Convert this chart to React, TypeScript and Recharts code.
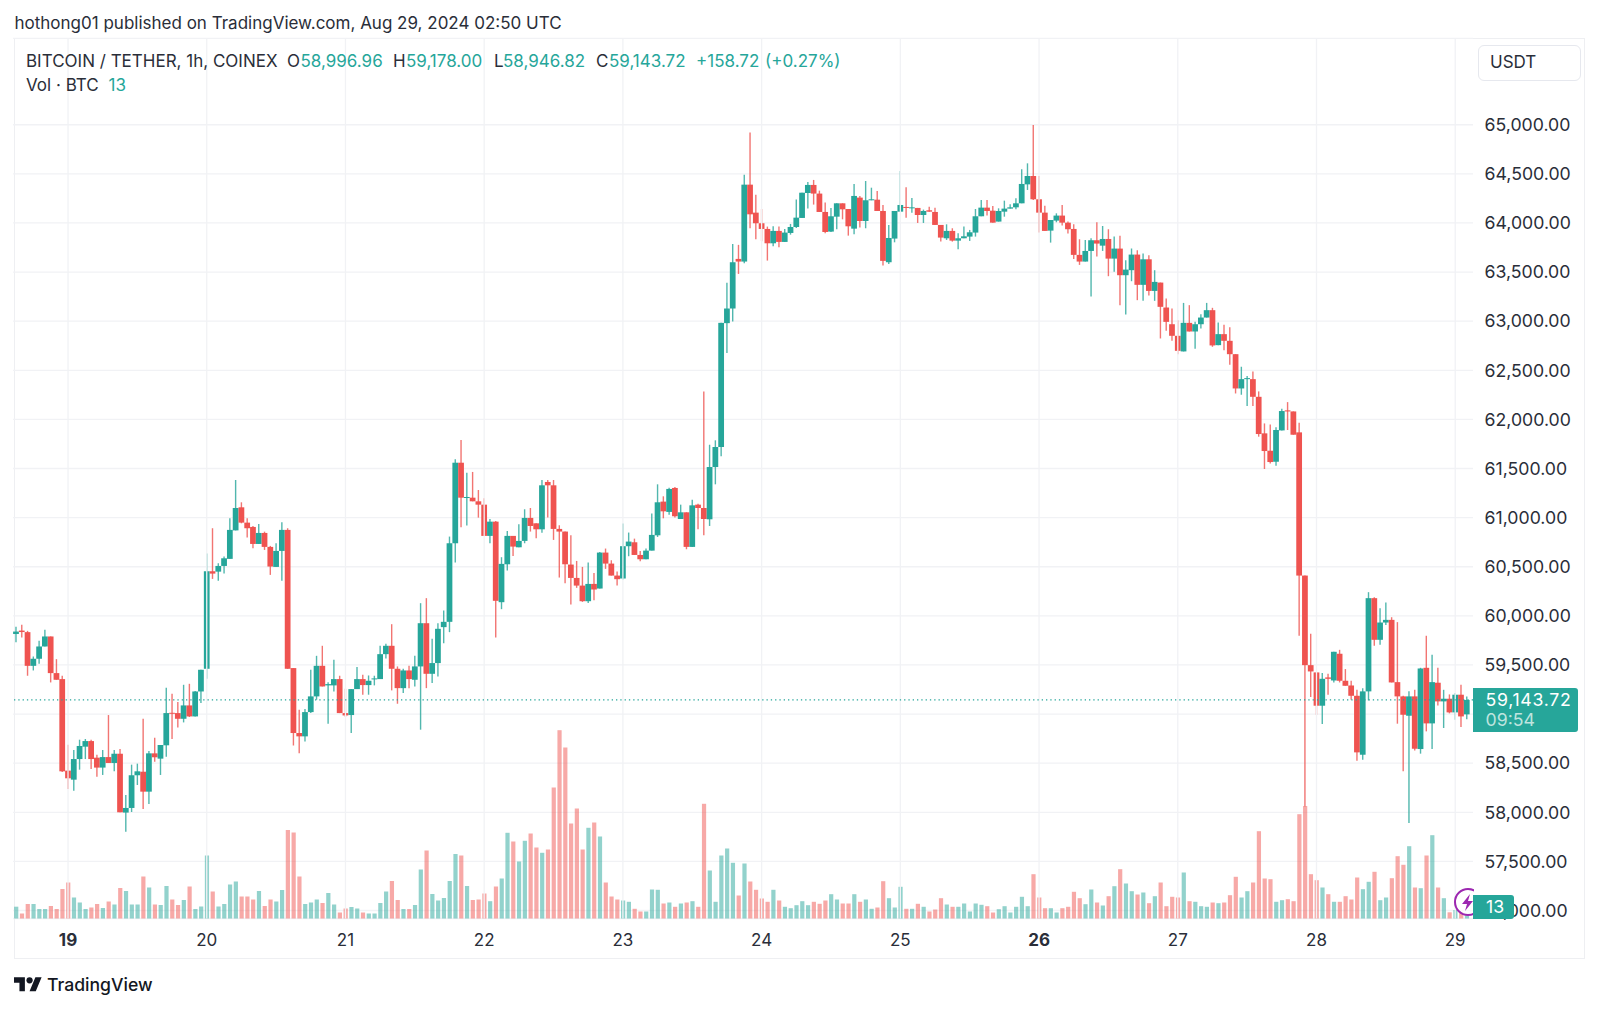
import React from "react";
import {
  ComposedChart,
  Bar,
  XAxis,
  YAxis,
  CartesianGrid,
  ReferenceLine,
} from "recharts";

const FONT = "Inter, 'Noto Sans', sans-serif";
const UP = "#26a69a";
const DOWN = "#ef5350";
const INK = "#2a2e39";

// hourly candles: [open, high, low, close]
const ohlc: number[][] = [
  [59815,59890,59730,59840],[59850,59910,59780,59835],[59834,59847,59390,59491],[59491,59586,59444,59563],[59563,59746,59512,59688],
  [59688,59858,59688,59790],[59790,59790,59322,59417],[59417,59559,59349,59349],[59356,59390,58410,58417],[58424,58688,58237,58346],
  [58332,58634,58220,58542],[58542,58739,58434,58675],[58668,58746,58542,58725],[58725,58739,58441,58542],[58556,58586,58363,58455],
  [58455,58634,58380,58562],[58562,58990,58502,58502],[58502,58634,58417,58596],[58596,58644,58000,58000],[57997,58176,57803,58044],
  [58044,58485,58003,58377],[58377,58495,58278,58417],[58413,58952,58034,58210],[58210,58624,58085,58600],[58600,58759,58515,58560],
  [58546,58685,58380,58685],[58682,59268,58566,59010],[59013,59207,58746,59003],[59010,59122,58864,58952],[58952,59298,58915,59088],
  [59088,59308,58970,58976],[58976,59235,58976,59230],[59230,59451,59112,59451],[59461,60634,59359,60454],[60454,60892,60376,60430],
  [60450,60536,60356,60508],[60508,60603,60430,60586],[60580,60993,60580,60875],[60870,61383,60870,61098],[61105,61156,60942,60949],
  [60949,60993,60797,60892],[60905,60915,60688,60732],[60732,60935,60732,60844],[60844,60857,60671,60702],[60702,60712,60417,60502],
  [60498,60739,60498,60661],[60661,60953,60356,60875],[60875,60892,59461,59461],[59468,59468,58680,58807],[58807,59044,58600,58773],
  [58773,59051,58720,59020],[59020,59451,59010,59180],[59180,59593,59146,59491],[59491,59695,59281,59281],[59292,59325,58902,59305],
  [59292,59553,59230,59356],[59356,59390,59010,59010],[59010,59258,58970,58986],[58990,59254,58807,59254],[59254,59478,59254,59356],
  [59356,59400,59197,59295],[59295,59393,59197,59339],[59356,59390,59292,59363],[59356,59695,59356,59610],[59610,59715,59566,59695],
  [59695,59915,59241,59461],[59461,59485,59105,59264],[59264,59461,59214,59444],[59444,59491,59264,59356],[59349,59593,59281,59485],
  [59485,60129,58841,59925],[59925,60180,59264,59410],[59410,59766,59315,59519],[59519,59925,59383,59868],[59885,60054,59722,59939],
  [59939,60807,59834,60739],[60739,61593,60542,61559],[61559,61790,60902,61203],[61203,61458,60919,61210],[61203,61465,61166,61166],
  [61166,61281,61000,61132],[61132,61197,60814,60814],[60814,60986,60739,60959],[60959,60965,59780,60153],[60139,60597,60068,60529],
  [60525,60864,60461,60814],[60814,60814,60610,60705],[60698,60932,60698,60763],[60763,61085,60739,60997],[60997,61098,60858,60915],
  [60942,60942,60790,60881],[60881,61383,60847,61329],[61363,61383,61000,61329],[61329,61383,60773,60885],[60885,60922,60390,60858],
  [60858,60858,60332,60525],[60522,60820,60115,60386],[60386,60559,60285,60308],[60308,60498,60142,60149],[60149,60542,60132,60325],
  [60325,60437,60159,60268],[60278,60650,60278,60644],[60644,60685,60478,60532],[60532,60566,60410,60410],[60410,60451,60308,60373],
  [60380,60939,60370,60709],[60709,60848,60607,60756],[60749,60786,60620,60620],[60620,60661,60556,60576],[60576,60685,60576,60664],
  [60664,61041,60664,60824],[60820,61339,60803,61156],[61163,61217,60993,61064],[61058,61305,61030,61292],[61302,61312,61000,61014],
  [60986,61132,60986,61054],[61054,61054,60678,60702],[60702,61183,60702,61125],[61132,61142,60881,61098],[61098,62285,60820,60986],
  [60983,61742,60915,61515],[61515,61787,61339,61719],[61719,62983,61624,62983],[62980,63390,62675,63129],[63129,63787,62997,63600],
  [63634,63777,63481,63607],[63607,64492,63590,64390],[64390,64922,63946,64088],[64105,64288,63834,63997],[63997,64142,63814,63939],
  [63939,63963,63617,63793],[63793,63966,63763,63919],[63919,63963,63753,63807],[63807,63939,63807,63902],[63898,63990,63881,63959],
  [63959,64238,63949,64054],[64051,64308,64051,64308],[64305,64417,64146,64387],[64387,64438,64187,64299],[64299,64329,64112,64112],
  [64112,64207,63895,63908],[63912,64153,63908,64068],[64064,64200,63936,64200],[64200,64200,64037,64139],[64142,64142,63871,63966],
  [63942,64397,63885,64275],[64258,64275,63953,64020],[64020,64427,63946,64231],[64231,64359,64231,64241],[64237,64325,64122,64122],
  [64122,64183,63566,63614],[63600,63980,63583,63847],[63841,64122,63803,64122],[64115,64529,64115,64183],[64163,64363,64054,64153],
  [64149,64254,64105,64159],[64153,64153,64000,64081],[64081,64136,64000,64122],[64129,64166,64115,64115],[64112,64156,63980,63980],
  [63980,63980,63810,63851],[63844,63986,63827,63919],[63919,63946,63810,63820],[63820,63895,63732,63844],[63844,63963,63844,63864],
  [63861,63929,63817,63905],[63902,64142,63861,64068],[64068,64234,64068,64156],[64156,64234,64075,64122],[64125,64173,64003,64003],
  [64014,64149,64014,64122],[64115,64227,64064,64146],[64146,64190,64146,64159],[64159,64251,64139,64200],[64200,64546,64200,64397],
  [64393,64607,64336,64478],[64478,64997,64234,64241],[64241,64478,63902,64105],[64105,64176,63919,63919],[63922,64030,63800,64030],
  [64024,64098,64007,64075],[64075,64183,63973,64003],[64003,64014,63892,63936],[63939,63986,63634,63675],[63675,63834,63573,63607],
  [63607,63827,63607,63715],[63715,63844,63251,63824],[63824,64007,63658,63790],[63769,63969,63715,63837],[63837,63936,63458,63637],
  [63637,63861,63502,63739],[63739,63871,63163,63468],[63468,63620,63068,63525],[63519,63740,63407,63678],[63678,63722,63214,63370],
  [63370,63688,63207,63630],[63630,63671,63261,63308],[63308,63519,63207,63400],[63393,63393,62824,63146],[63139,63230,62902,62993],
  [62969,63129,62800,62851],[62851,63010,62664,62698],[62692,63186,62692,62983],[62983,63163,62895,62895],[62895,62993,62719,62969],
  [62969,63071,62925,63037],[63037,63186,63037,63112],[63112,63136,62739,62753],[62756,62986,62756,62868],[62868,62963,62705,62800],
  [62800,62939,62556,62664],[62664,62664,62264,62315],[62315,62536,62251,62410],[62414,62441,62136,62420],[62410,62488,62136,62230],
  [62230,62285,61824,61851],[61858,61959,61495,61678],[61681,61949,61552,61566],[61569,61919,61529,61892],[61888,62108,61888,62085],
  [62092,62176,61892,62081],[62081,62081,61844,61844],[61868,61966,59797,60410],[60410,60410,58060,59498],[59498,59817,59173,59434],
  [59424,59424,58993,59085],[59085,59417,58898,59359],[59373,59410,59197,59359],[59342,59634,59322,59634],[59614,59654,59322,59339],
  [59339,59458,59288,59288],[59291,59339,59146,59186],[59186,59247,58525,58610],[58586,59264,58536,59231],[59231,60241,59139,60180],
  [60180,60190,59695,59756],[59756,60078,59705,59932],[59932,60136,59908,59959],[59959,59986,59322,59322],[59325,59936,58902,59180],
  [59180,59186,58417,58993],[58983,59231,57891,59180],[59180,59247,58630,58647],[58644,59471,58597,59464],[59471,59797,58824,58905],
  [58905,59603,58644,59325],[59319,59471,59088,59129],[59129,59247,58858,59156],[59156,59200,59007,59017],[59017,59214,58942,59197],
  [59197,59298,58868,58976],[58996.96,59178,58946.82,59143.72],
];

// hourly volume, read against the same baseline
const volumes: number[] = [
  11.8,5,14.5,14.5,9.5,9.5,12.5,9.5,29.5,36,21,16,9.5,11,14.5,10.5,17,14,30.5,27.5,
  14,14,42,31,14,13.5,32.5,19,13.5,18.5,32,9.5,12,63,27,12,14.5,34,37,22,
  22,19,27.5,12.5,19,17,28.5,88.5,86,42,14.5,16,19,15.5,25.5,14,6,10,11.5,10,
  6,5,5,15.5,27,37.5,18.5,9.5,9.5,13.5,49,68,24.5,18,20.5,37.5,64.5,63,32.5,18.5,
  19,25,17.3,32,40,85.7,77,57,77.7,85,71,65.7,69,131,188.3,171,95,110,69,90.7,
  96,82,36,22,19,18,16.7,9.7,7,7,29,28.7,15,16,11.7,15,16,17.3,11.7,114.7,
  48,16.7,63,70,55.7,23,55,37,28.7,20,16.7,28.7,18,11.7,10.3,13.3,17.3,13.3,16.7,14.7,
  18,24.3,19,15,15,24.3,16.7,19,9.7,11,37.3,20.3,11,31.7,9.7,9.7,14.7,11.7,7,9,
  20.3,14,11.7,11.7,15,7,15,13.7,12.3,6,9.3,12.3,6,11.7,21.7,12.3,44.3,21,10.3,10.3,
  6,10.3,11.7,26.7,20.3,14.3,29,16,13,22.3,32.3,49.3,35,27.3,24,26,15.3,22.3,36,12.3,
  21.7,21,46,17.3,16.7,12.3,11.7,16,15.3,16,23.3,41.7,21,27.3,36,87.3,40,39.3,16.7,18.3,
  19.3,17.3,104.3,112.5,44.3,38.3,31,24.3,16.7,16.7,22.3,19,41,29.3,36.7,46.7,18.3,21,40.3,62.3,
  53.7,72.3,31,30.3,63,83.3,31,20.3,6.2,8.5,6,3,
];

const dayLabels = ["19", "20", "21", "22", "23", "24", "25", "26", "27", "28", "29"];
const dayStartHours = [9, 33, 57, 81, 105, 129, 153, 177, 201, 225, 249];
const boldDays = ["19", "26"];
const priceTicks = [57000, 57500, 58000, 58500, 59000, 59500, 60000, 60500, 61000, 61500, 62000, 62500, 63000, 63500, 64000, 64500, 65000];
const coveredPriceTick = 59000;
const lastPrice = 59143.72;

const rows = ohlc.map(([open, high, low, close], hour) => ({
  hour,
  open,
  high,
  low,
  close,
  range: [low, high],
  volume: volumes[hour] ?? 0,
}));

function Candle(props: any) {
  const { x, y, width, height, payload } = props;
  const { open, high, low, close } = payload;
  const k = height / Math.max(high - low, 1);
  const at = (p: number) => y + (high - p) * k;
  const color = close >= open ? UP : DOWN;
  const top = at(Math.max(open, close));
  const h = Math.max(Math.abs(open - close) * k, 1);
  const cx = x + width / 2;
  return (
    <g>
      <line x1={cx} x2={cx} y1={y} y2={y + height} stroke={color} strokeWidth={1.4} opacity={0.8} />
      <rect x={x} y={top} width={width} height={h} fill={color} />
    </g>
  );
}

function VolumeBar(props: any) {
  const { x, y, width, height, payload } = props;
  const color = payload.close >= payload.open ? UP : DOWN;
  return <rect x={x} y={y} width={width} height={height} fill={color} fillOpacity={0.5} />;
}

function DayTick(props: any) {
  const { x, y, payload } = props;
  const label = dayLabels[dayStartHours.indexOf(payload.value)];
  return (
    <text
      x={x}
      y={y}
      dy={19}
      textAnchor="middle"
      fontFamily={FONT}
      fontSize={17}
      fontWeight={boldDays.includes(label) ? 700 : 400}
      fill={INK}
    >
      {label}
    </text>
  );
}

function Txt({ x, y, color = INK, size = 17, weight = 400, spacing = 0, children }: any) {
  return (
    <div
      style={{
        position: "absolute",
        left: x,
        top: y,
        transform: "translateY(-50%)",
        color,
        fontSize: size,
        fontWeight: weight,
        fontFamily: FONT,
        letterSpacing: spacing,
        whiteSpace: "nowrap",
        lineHeight: 1,
      }}
    >
      {children}
    </div>
  );
}

export default function App() {
  return (
    <div style={{ position: "absolute", left: 0, top: 0, width: 1600, height: 1009, background: "#fff", overflow: "hidden" }}>
      <div style={{ position: "absolute", left: 14, top: 38, width: 1571, height: 921, border: "1px solid #eeeff2", boxSizing: "border-box" }} />
      <ComposedChart
        width={1600}
        height={1009}
        data={rows}
        margin={{ left: 13.11, top: 38.3, right: 15, bottom: 50 }}
        style={{ position: "absolute", left: 0, top: 0 }}
      >
        <CartesianGrid xAxisId="price" yAxisId="price" vertical={false} stroke="#f1f2f5" strokeWidth={1.3} />
        <XAxis
          xAxisId="price"
          dataKey="hour"
          type="category"
          ticks={dayStartHours}
          interval={0}
          height={40.5}
          padding={{ left: 0, right: 3.33 }}
          axisLine={false}
          tickLine={false}
          tick={<DayTick />}
        />
        <XAxis xAxisId="vol" dataKey="hour" type="category" hide padding={{ left: 0, right: 3.33 }} />
        <YAxis
          yAxisId="price"
          orientation="right"
          width={112}
          domain={[56918.6, 65880]}
          allowDataOverflow
          ticks={priceTicks}
          interval={0}
          axisLine={false}
          tickLine={false}
          tickMargin={11.5}
          tickSize={0}
          tick={{ fontFamily: FONT, fontSize: 17.7, fill: INK }}
          tickFormatter={(v: number) =>
            v === coveredPriceTick
              ? ""
              : v.toLocaleString("en-US", { minimumFractionDigits: 2, maximumFractionDigits: 2 })
          }
        />
        <YAxis yAxisId="vol" hide domain={[0, 880.2]} />
        {dayStartHours.map((h) => (
          <ReferenceLine key={h} xAxisId="price" yAxisId="price" x={h} stroke="#f1f2f5" strokeWidth={1.3} />
        ))}
        <Bar
          xAxisId="vol"
          yAxisId="vol"
          dataKey="volume"
          barSize={4.2}
          shape={<VolumeBar />}
          isAnimationActive={false}
        />
        <ReferenceLine yAxisId="price" xAxisId="price" y={lastPrice} stroke={UP} strokeWidth={1.2} strokeDasharray="1.3 3" />
        <Bar
          xAxisId="price"
          yAxisId="price"
          dataKey="range"
          barSize={5.75}
          shape={<Candle />}
          isAnimationActive={false}
        />
      </ComposedChart>

      <Txt x={14.5} y={22.5}>hothong01 published on TradingView.com, Aug 29, 2024 02:50 UTC</Txt>
      <Txt x={26} y={61}>BITCOIN / TETHER, 1h, COINEX</Txt>
      <Txt x={287} y={61}>O</Txt>
      <Txt x={300.5} y={61} color={UP}>58,996.96</Txt>
      <Txt x={393} y={61}>H</Txt>
      <Txt x={406} y={61} color={UP}>59,178.00</Txt>
      <Txt x={494} y={61}>L</Txt>
      <Txt x={503} y={61} color={UP}>58,946.82</Txt>
      <Txt x={596} y={61}>C</Txt>
      <Txt x={609} y={61} color={UP}>59,143.72</Txt>
      <Txt x={696} y={61} color={UP}>+158.72</Txt>
      <Txt x={765} y={61} color={UP}>(+0.27%)</Txt>
      <Txt x={26} y={85}>Vol · BTC</Txt>
      <Txt x={108.5} y={85} color={UP}>13</Txt>

      <div style={{ position: "absolute", left: 1478, top: 45, width: 103, height: 36, border: "1px solid #e6e8ee", borderRadius: 6, boxSizing: "border-box", background: "#fff" }} />
      <Txt x={1490} y={62}>USDT</Txt>

      <svg width={22} height={34} style={{ position: "absolute", left: 1452, top: 885 }}>
        <circle cx={16} cy={17} r={13} fill="#fff" fillOpacity={0.6} stroke="#9c27b0" strokeWidth={2} />
        <path d="M18 9 L10 19 L15 19 L13 26 L21 16 L16 16 Z" fill="#9c27b0" />
      </svg>

      <div style={{ position: "absolute", left: 1473, top: 688, width: 105, height: 44, background: UP, borderRadius: "0 3px 3px 0" }} />
      <Txt x={1485.5} y={700} color="#fff" size={17.7} spacing={0.7}>59,143.72</Txt>
      <Txt x={1485.5} y={720} color="#bfe4df" size={17.7}>09:54</Txt>
      <div style={{ position: "absolute", left: 1473, top: 895, width: 41, height: 24, background: UP, borderRadius: "0 3px 3px 0" }} />
      <Txt x={1486} y={907} color="#fff" size={17.7}>13</Txt>

      <svg width={28} height={22} viewBox="0 0 36 28" style={{ position: "absolute", left: 14, top: 974 }}>
        <path d="M14 22H7V11H0V4h14v18zM28 22h-8l7.5-18h8L28 22z" fill="#131722" />
        <circle cx={20} cy={8} r={4} fill="#131722" />
      </svg>
      <Txt x={47} y={985} size={17.6} color="#131722" weight={500}>TradingView</Txt>
    </div>
  );
}
